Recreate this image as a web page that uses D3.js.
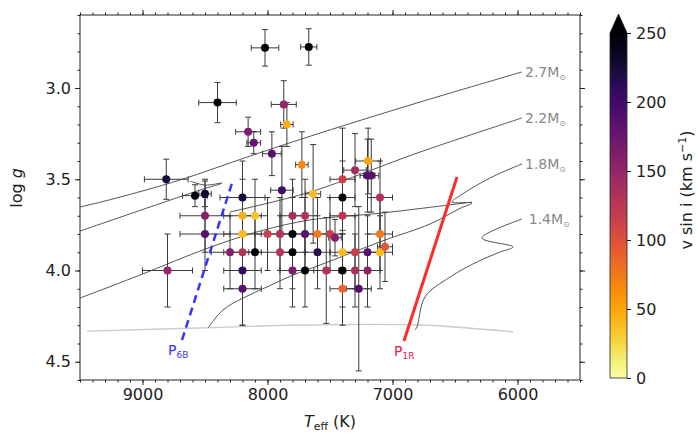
<!DOCTYPE html>
<html><head><meta charset="utf-8">
<script src="https://cdn.jsdelivr.net/npm/d3@7"></script>
<style>body{margin:0;background:#fff;} text{font-family:"DejaVu Sans",sans-serif;}</style>
</head><body><svg id="c" width="700" height="434"></svg>
<script>
// ---- data ----
const teff = [8020,7670,8400,7870,7845,8155,8110,7965,7725,8810,7885,7635,8580,8500,8200,7400,7100,7400,7300,7200,7170,7195,
  8500,8200,8100,7800,7700,7400,
  8500,8200,8000,7900,7800,7700,7600,7500,7460,7100,
  8300,8200,8100,7900,7800,7600,7400,7300,7200,7100,7060,
  8800,8200,7800,7700,7530,7400,7300,7200,
  8200,7400,7270];
const logg = [2.78,2.775,3.08,3.09,3.2,3.24,3.3,3.36,3.42,3.5,3.56,3.58,3.59,3.58,3.6,3.6,3.6,3.5,3.45,3.48,3.48,3.4,
  3.7,3.7,3.7,3.7,3.7,3.7,
  3.8,3.8,3.8,3.8,3.8,3.8,3.8,3.8,3.82,3.8,
  3.9,3.9,3.9,3.9,3.9,3.9,3.9,3.9,3.9,3.9,3.87,
  4.0,4.0,4.0,4.0,4.0,4.0,4.0,4.0,
  4.1,4.1,4.1];
const vsini = [255,255,255,150,45,165,180,185,65,225,200,40,240,230,225,250,130,115,140,195,185,50,
  160,45,35,135,130,125,
  185,40,115,130,250,185,75,115,160,75,
  160,130,250,130,250,215,40,115,190,40,95,
  150,210,165,250,130,250,135,155,
  185,85,190];
const teffErr = [110,65,150,100,50,100,55,75,50,175,90,60,100,50,180,100,100,100,90,60,60,100,
  200,150,100,100,100,100,
  200,150,100,100,100,100,100,100,50,100,
  150,150,100,100,100,100,100,100,100,100,60,
  200,150,100,100,100,100,100,100,
  150,100,100];
const loggErr = [0.1,0.1,0.11,0.13,0.12,0.08,0.06,0.12,0.18,0.11,0.24,0.27,0.06,0.07,0.2,0.2,0.2,0.28,0.2,0.2,0.2,0.18,
  0.2,0.2,0.2,0.2,0.2,0.2,
  0.2,0.2,0.2,0.2,0.2,0.2,0.2,0.2,0.1,0.2,
  0.2,0.2,0.2,0.2,0.2,0.2,0.2,0.2,0.2,0.2,0.19,
  0.2,0.3,0.2,0.2,0.29,0.2,0.2,0.2,
  0.2,0.2,0.45];

// evolutionary tracks [Teff, logg]
const track27a = [[9500,3.652],[9236,3.608],[8700,3.504],[8140,3.373],[7580,3.247],[6780,3.077],[5964,2.912]];
const track27b = [[9500,3.784],[8940,3.652],[8540,3.559],[8364,3.521],[8500,3.532],[8620,3.510]];
const track22a = [[5964,3.164],[6780,3.351],[7660,3.570],[8300,3.679]];
const track22b = [[9500,4.151],[9020,4.025],[8476,3.877],[8060,3.784],[7660,3.723],[7084,3.685],[6364,3.625]];
const track18 = [[8476,4.315],[8356,4.216],[8196,4.151],[8004,4.090],[7796,4.025],[7580,3.970],[7084,3.839],[6700,3.745],[6460,3.660],[6364,3.630],[6524,3.625],[6460,3.590],[6220,3.493],[5964,3.416]];
const track14 = [[6820,4.325],[6804,4.310],[6740,4.145],[6540,4.036],[6324,3.953],[6140,3.899],[6036,3.871],[6284,3.822],[5964,3.718]];
const zams = [[9444,4.332],[8540,4.315],[7740,4.299],[6780,4.299],[6036,4.337]];
const trackLabels = ["2.7","2.2","1.8","1.4"];
const trackLabelPos = [[5940,2.912],[5940,3.164],[5940,3.416],[5910,3.718]];
const p6B = [[8684,4.381],[8276,3.504]];
const p1R = [[6908,4.386],[6484,3.488]];
const xTicks = [9000,8000,7000,6000];
const yTicks = [3.0,3.5,4.0,4.5];
const cbTicks = [0,50,100,150,200,250];

// ---- drawing ----
const svg = d3.select("#c");
const x = d3.scaleLinear().domain([9500,5500]).range([80,580]);
const y = d3.scaleLinear().domain([2.6,4.6]).range([15,380]);
const color = v => d3.interpolateInferno(1 - Math.min(v,250)/250);

const line = d3.line().x(d=>x(d[0])).y(d=>y(d[1]));
const sline = d3.line().x(d=>x(d[0])).y(d=>y(d[1])).curve(d3.curveCatmullRom.alpha(0.5));
const g = svg.append("g");

// ZAMS
g.append("path").attr("d", sline(zams)).attr("fill","none").attr("stroke","#c6cdd4").attr("stroke-width",1.4);
[track27a,track27b,track22a,track22b,track18,track14].forEach(t=>{
  g.append("path").attr("d", sline(t)).attr("fill","none").attr("stroke","#555").attr("stroke-width",1);
});
trackLabels.forEach((t,i)=>{
  const tx = g.append("text").attr("x", x(trackLabelPos[i][0])).attr("y", y(trackLabelPos[i][1])+5)
    .attr("fill","#888").attr("font-size",14);
  tx.append("tspan").text(t+"M");
  tx.append("tspan").text("\u2299").attr("font-size",8).attr("dy",3);
});

// error bars
const eb = g.append("g").attr("stroke","#3a3a3a").attr("stroke-width",1);
teff.forEach((t,i)=>{
  const cx=x(t), cy=y(logg[i]);
  const x1=x(t+teffErr[i]), x2=x(t-teffErr[i]);
  const y1=y(logg[i]-loggErr[i]), y2=y(logg[i]+loggErr[i]);
  eb.append("line").attr("x1",x1).attr("x2",x2).attr("y1",cy).attr("y2",cy);
  eb.append("line").attr("x1",cx).attr("x2",cx).attr("y1",y1).attr("y2",y2);
  [x1,x2].forEach(xx=>eb.append("line").attr("x1",xx).attr("x2",xx).attr("y1",cy-3).attr("y2",cy+3));
  [y1,y2].forEach(yy=>eb.append("line").attr("x1",cx-3).attr("x2",cx+3).attr("y1",yy).attr("y2",yy));
});
// points
g.append("g").selectAll("circle").data(teff).join("circle")
  .attr("cx",(d)=>x(d)).attr("cy",(d,i)=>y(logg[i])).attr("r",4)
  .attr("fill",(d,i)=>color(vsini[i]));

// P lines
g.append("path").attr("d",line(p6B)).attr("stroke","#3535ff").attr("stroke-width",2.5).attr("stroke-dasharray","8,5").attr("fill","none");
g.append("path").attr("d",line(p1R)).attr("stroke","#ff2a2a").attr("stroke-width",3).attr("fill","none");
const l6 = g.append("text").attr("x",x(p6B[0][0])-14).attr("y",y(p6B[0][1])+15).attr("fill","#3535ff").attr("font-size",14);
l6.append("tspan").text("P");
l6.append("tspan").text("6B").attr("font-size",9).attr("dy",3);
const l1 = g.append("text").attr("x",x(p1R[0][0])-10).attr("y",y(p1R[0][1])+15).attr("fill","#e8194a").attr("font-size",14);
l1.append("tspan").text("P");
l1.append("tspan").text("1R").attr("font-size",9).attr("dy",3);

// frame & axes
const minorX = d3.range(5500,9501,100), minorY = d3.range(26,47).map(v=>v/10);
function ax(axisFn, scale, ticks, size, fmt, tr){
  const a = axisFn(scale).tickValues(ticks).tickSize(size).tickPadding(4);
  a.tickFormat(fmt ? fmt : ()=>"");
  const gg = svg.append("g").attr("transform",tr).call(a);
  gg.select(".domain").remove();
  gg.selectAll("text").attr("font-size",16).attr("fill","#222").attr("font-family","DejaVu Sans");
  gg.selectAll("line").attr("stroke","#222");
}
ax(d3.axisBottom,x,xTicks,5,d3.format("d"),"translate(0,380)");
ax(d3.axisBottom,x,minorX,2.5,null,"translate(0,380)");
ax(d3.axisTop,x,xTicks,5,null,"translate(0,15)");
ax(d3.axisTop,x,minorX,2.5,null,"translate(0,15)");
ax(d3.axisLeft,y,yTicks,5,d3.format(".1f"),"translate(80,0)");
ax(d3.axisLeft,y,minorY,2.5,null,"translate(80,0)");
ax(d3.axisRight,y,yTicks,5,null,"translate(580,0)");
ax(d3.axisRight,y,minorY,2.5,null,"translate(580,0)");
svg.append("rect").attr("x",80).attr("y",15).attr("width",500).attr("height",365).attr("fill","none").attr("stroke","#222").attr("stroke-width",1);

// axis labels
const xl = svg.append("text").attr("x",330).attr("y",427).attr("text-anchor","middle").attr("font-size",16).attr("fill","#222");
xl.append("tspan").text("T").attr("font-style","italic");
xl.append("tspan").text("eff").attr("font-size",11).attr("dy",3);
xl.append("tspan").text(" (K)").attr("dy",-3);
const yl = svg.append("text").attr("transform","translate(22,188) rotate(-90)").attr("text-anchor","middle").attr("font-size",16).attr("fill","#222");
yl.append("tspan").text("log ");
yl.append("tspan").text("g").attr("font-style","italic");

// colorbar
const cb = d3.scaleLinear().domain([0,250]).range([378,33]);
const defs = svg.append("defs");
const grad = defs.append("linearGradient").attr("id","cbg").attr("x1",0).attr("y1",1).attr("x2",0).attr("y2",0);
d3.range(0,1.0001,0.05).forEach(t=>grad.append("stop").attr("offset",t).attr("stop-color",color(t*250)));
svg.append("rect").attr("x",610).attr("y",cb(250)).attr("width",17).attr("height",cb(0)-cb(250)).attr("fill","url(#cbg)");
svg.append("path").attr("d",`M610,${cb(250)} L618.5,14 L627,${cb(250)} Z`).attr("fill",color(250));
svg.append("path").attr("d",`M610,${cb(0)} L610,${cb(250)} L618.5,14 L627,${cb(250)} L627,${cb(0)} Z`).attr("fill","none").attr("stroke","#222").attr("stroke-width",0.8);
const cba = svg.append("g").attr("transform","translate(627,0)").call(d3.axisRight(cb).tickValues(cbTicks).tickSize(4).tickPadding(5));
cba.select(".domain").remove();
cba.selectAll("text").attr("font-size",16).attr("fill","#222").attr("font-family","DejaVu Sans");
const cl = svg.append("text").attr("transform","translate(692,190) rotate(-90)").attr("text-anchor","middle").attr("font-size",16).attr("fill","#222");
cl.append("tspan").text("v sin i (km s");
cl.append("tspan").text("\u22121").attr("font-size",11).attr("dy",-6);
cl.append("tspan").text(")").attr("dy",6);
</script></body></html>
